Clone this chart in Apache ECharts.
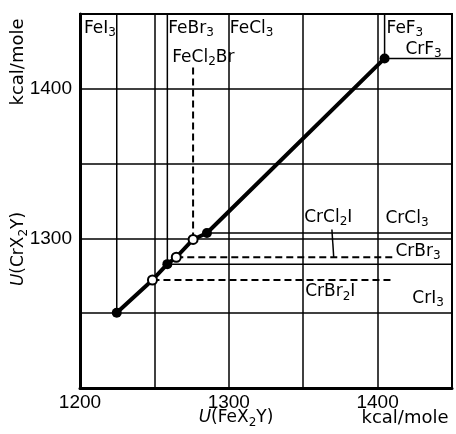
<!DOCTYPE html>
<html>
<head>
<meta charset="utf-8">
<script src="https://cdn.jsdelivr.net/npm/echarts@6/dist/echarts.min.js"></script>
<style>
  html, body { margin: 0; padding: 0; background: #fff; }
  #chart { width: 456px; height: 434px; }
</style>
</head>
<body>
<div id="chart"></div>
<script>
// axis ticks that carry a label
const xTickLabels = [1200, 1300, 1400];
const yTickLabels = [1300, 1400];

// lattice energies, kcal/mole: [U(FeX2Y), U(CrX2Y)]
const pureSalts = [[1224.7, 1250.3], [1258.7, 1282.8], [1285.3, 1303.6], [1404.7, 1420.3]];
const mixedSalts = [[1248.7, 1272.2], [1264.7, 1287.4], [1276.0, 1299.3]];
const trendLine = [[1224.7, 1250.3], [1248.7, 1272.2], [1258.7, 1282.8], [1264.7, 1287.4],
                   [1276.0, 1299.3], [1285.3, 1303.6], [1404.7, 1420.3]];

// reference lines for each salt
const solidLines = [
  [[1224.7, 1250.3], [1224.7, 1450]],   // FeI3
  [[1258.7, 1282.8], [1258.7, 1450]],   // FeBr3
  [[1404.7, 1420.3], [1404.7, 1450]],   // FeF3
  [[1404.7, 1420.3], [1450, 1420.3]],   // CrF3
  [[1258.7, 1282.8], [1450, 1282.8]],   // CrBr3
  [[1285.3, 1303.6], [1450, 1303.6]],   // CrCl3
  [[1369.3, 1306.0], [1370.5, 1287.4]]  // CrCl2I leader
];
const dashedLines = [
  [[1248.7, 1272.2], [1409, 1272.2]],   // CrBr2I
  [[1264.7, 1287.4], [1410, 1287.4]],   // CrCl2I
  [[1276.0, 1299.3], [1276.0, 1415]]    // FeCl2Br
];

// label anchors (left edge, vertical middle)
const saltLabels = [
  [1202.7, 1440.4, '{n|FeI}{s|3}'],
  [1259.3, 1440.4, '{n|FeBr}{s|3}'],
  [1300.7, 1440.4, '{n|FeCl}{s|3}'],
  [1406.0, 1440.4, '{n|FeF}{s|3}'],
  [1262.0, 1421.2, '{n|FeCl}{s|2}{n|Br}'],
  [1418.7, 1426.5, '{n|CrF}{s|3}'],
  [1350.7, 1313.9, '{n|CrCl}{s|2}{n|I}'],
  [1405.3, 1313.2, '{n|CrCl}{s|3}'],
  [1412.0, 1291.4, '{n|CrBr}{s|3}'],
  [1351.3, 1264.2, '{n|CrBr}{s|2}{n|I}'],
  [1423.3, 1259.6, '{n|CrI}{s|3}']
];

const FONT = 'DejaVu Sans';
const rich = {
  n: { fontFamily: FONT, fontSize: 17, color: '#000' },
  s: { fontFamily: FONT, fontSize: 12, color: '#000', padding: [9, 0, 0, 0] },
  i: { fontFamily: FONT, fontSize: 17, color: '#000', fontStyle: 'italic' }
};

const series = [];
solidLines.forEach(seg => series.push({
  type: 'line', data: seg, symbol: 'none', silent: true, z: 2,
  lineStyle: { color: '#000', width: 1.5 }
}));
dashedLines.forEach(seg => series.push({
  type: 'line', data: seg, symbol: 'none', silent: true, z: 2,
  lineStyle: { color: '#000', width: 2, type: [7, 4] }
}));
series.push({
  type: 'line', data: trendLine, symbol: 'none', z: 3,
  lineStyle: { color: '#000', width: 4 }
});
series.push({
  type: 'scatter', data: pureSalts, symbolSize: 10, z: 4,
  itemStyle: { color: '#000', opacity: 1 }
});
series.push({
  type: 'scatter', data: mixedSalts, symbolSize: 9, z: 5,
  itemStyle: { color: '#fff', borderColor: '#000', borderWidth: 2, opacity: 1 }
});
series.push({
  type: 'scatter', data: saltLabels, symbolSize: 0, z: 6,
  itemStyle: { color: '#000', opacity: 1 },
  label: {
    show: true, position: 'right', distance: 0, color: '#000',
    formatter: p => p.data[2], rich: rich
  }
});

const chart = echarts.init(document.getElementById('chart'));
chart.setOption({
  animation: false,
  grid: { left: 80, right: 4, top: 14, bottom: 46, show: true, borderColor: '#000', borderWidth: 2 },
  xAxis: {
    type: 'value', min: 1200, max: 1450, interval: 50,
    axisLine: { show: true, lineStyle: { color: '#000', width: 3 } },
    axisTick: { show: false },
    splitLine: { show: true, lineStyle: { color: '#000', width: 1.5 } },
    axisLabel: {
      margin: 5, color: '#000', fontFamily: 'Liberation Sans', fontSize: 19,
      formatter: v => xTickLabels.includes(v) ? String(v) : ''
    }
  },
  yAxis: {
    type: 'value', min: 1200, max: 1450, interval: 50,
    axisLine: { show: true, lineStyle: { color: '#000', width: 3 } },
    axisTick: { show: false },
    splitLine: { show: true, lineStyle: { color: '#000', width: 1.5 } },
    axisLabel: {
      margin: 8, color: '#000', fontFamily: 'Liberation Sans', fontSize: 19,
      formatter: v => yTickLabels.includes(v) ? String(v) : ''
    }
  },
  graphic: [
    { type: 'text', x: 18, y: 62, rotation: Math.PI / 2,
      style: { text: 'kcal/mole', font: '18px "DejaVu Sans"', fill: '#000', align: 'center', verticalAlign: 'middle' } },
    { type: 'text', x: 19, y: 249, rotation: Math.PI / 2,
      style: { text: '{i|U}{n|(CrX}{s|2}{n|Y)}', rich: rich, fill: '#000', align: 'center', verticalAlign: 'middle' } },
    { type: 'text', x: 236, y: 418,
      style: { text: '{i|U}{n|(FeX}{s|2}{n|Y)}', rich: rich, fill: '#000', align: 'center', verticalAlign: 'middle' } },
    { type: 'text', x: 405, y: 418,
      style: { text: 'kcal/mole', font: '18px "DejaVu Sans"', fill: '#000', align: 'center', verticalAlign: 'middle' } }
  ],
  series: series
});
</script>
</body>
</html>
